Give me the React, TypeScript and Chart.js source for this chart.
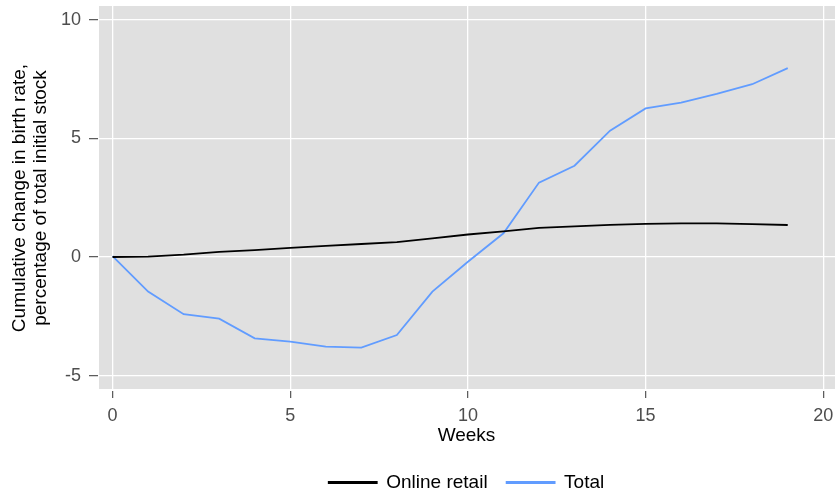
import React, { useEffect, useRef } from "react";
import { Chart, registerables } from "chart.js";

Chart.register(...registerables);

const weeks = [0, 1, 2, 3, 4, 5, 6, 7, 8, 9, 10, 11, 12, 13, 14, 15, 16, 17, 18, 19];
const onlineRetail = [0, 0.02, 0.1, 0.22, 0.29, 0.39, 0.47, 0.55, 0.63, 0.79, 0.95, 1.08, 1.23, 1.29, 1.36, 1.4, 1.42, 1.42, 1.39, 1.35];
const total = [0.04, -1.46, -2.41, -2.6, -3.43, -3.57, -3.78, -3.82, -3.29, -1.46, -0.2, 1.0, 3.14, 3.85, 5.33, 6.27, 6.51, 6.88, 7.29, 7.97];
const seriesNames = ["Online retail", "Total"];
const xTicks = [0, 5, 10, 15, 20];
const yTicks = [-5, 0, 5, 10];
const yTitle = ["Cumulative change in birth rate,", "percentage of total initial stock"];
const xTitle = "Weeks";

const FONT = "'Liberation Sans', Arial, sans-serif";

const bgPlugin = {
  id: "panelBg",
  beforeDraw(chart: any) {
    const { ctx, chartArea } = chart;
    ctx.save();
    ctx.fillStyle = "#E0E0E0";
    ctx.fillRect(chartArea.left, chartArea.top, chartArea.right - chartArea.left, chartArea.bottom - chartArea.top);
    ctx.restore();
  },
};

export default function App() {
  const ref = useRef<HTMLCanvasElement>(null);
  useEffect(() => {
    const canvas = ref.current!;
    const chart = new Chart(canvas, {
      type: "line",
      data: {
        datasets: [
          {
            label: seriesNames[0],
            data: weeks.map((w, i) => ({ x: w, y: onlineRetail[i] })),
            borderColor: "#000000",
            backgroundColor: "#000000",
            borderWidth: 1.8,
            pointRadius: 0,
            tension: 0,
          },
          {
            label: seriesNames[1],
            data: weeks.map((w, i) => ({ x: w, y: total[i] })),
            borderColor: "#619CFF",
            backgroundColor: "#619CFF",
            borderWidth: 1.8,
            pointRadius: 0,
            tension: 0,
          },
        ],
      },
      options: {
        animation: false,
        responsive: false,
        devicePixelRatio: 1,
        layout: { padding: { top: 6, right: 0, left: 0, bottom: -9 } },
        plugins: {
          tooltip: { enabled: false },
          legend: {
            position: "bottom",
            fullSize: false,
            labels: {
              boxWidth: 48,
              boxHeight: 1,
              padding: 19,
              color: "#000",
              font: { family: FONT, size: 19 },
            },
          },
        },
        scales: {
          x: {
            type: "linear",
            min: -0.41,
            max: 20.33,
            afterBuildTicks: (s: any) => {
              s.ticks = xTicks.map((v) => ({ value: v }));
            },
            afterFit: (s: any) => {
              s.height = 64;
              s.paddingLeft = 0;
              s.paddingRight = 0;
            },
            grid: {
              color: "#FFFFFF",
              lineWidth: 1.3,
              drawTicks: true,
              tickLength: 8,
              tickColor: "#555555",
              tickWidth: 1.2,
            },
            border: { display: true, color: "#FFFFFF", width: 2 },
            ticks: {
              color: "#4D4D4D",
              padding: 7,
              maxRotation: 0,
              font: { family: FONT, size: 18 },
            },
            title: {
              display: true,
              text: xTitle,
              color: "#000",
              padding: { top: 0, bottom: 7 },
              font: { family: FONT, size: 19 },
            },
          },
          y: {
            type: "linear",
            min: -5.61,
            max: 10.59,
            afterBuildTicks: (s: any) => {
              s.ticks = yTicks.map((v) => ({ value: v }));
            },
            afterFit: (s: any) => {
              s.width = 98;
              s.paddingTop = 0;
              s.paddingBottom = 0;
            },
            grid: {
              color: "#FFFFFF",
              lineWidth: 1.3,
              drawTicks: true,
              tickLength: 9,
              tickColor: "#555555",
              tickWidth: 1.2,
            },
            border: { display: true, color: "#FFFFFF", width: 1 },
            ticks: {
              color: "#4D4D4D",
              padding: 8,
              font: { family: FONT, size: 18 },
            },
            title: {
              display: true,
              text: yTitle,
              color: "#000",
              padding: { top: 10, bottom: 0 },
              font: { family: FONT, size: 19, lineHeight: 1.08 },
            },
          },
        },
      },
      plugins: [bgPlugin],
    });
    return () => chart.destroy();
  }, []);
  return (
    <div style={{ position: "fixed", left: 0, top: 0, width: 835, height: 493, background: "#fff" }}>
      <canvas ref={ref} width={835} height={493} style={{ width: 835, height: 493, display: "block" }} />
    </div>
  );
}
